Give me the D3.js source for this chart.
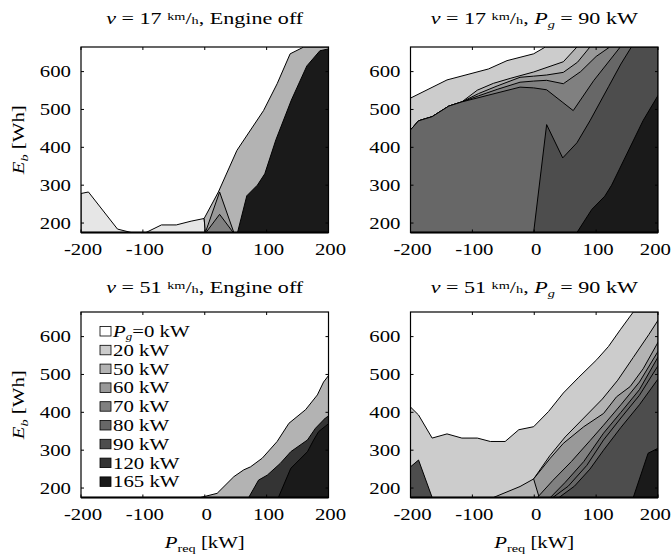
<!DOCTYPE html>
<html>
<head>
<meta charset="utf-8">
<script src="https://cdn.jsdelivr.net/npm/d3@7"></script>
<style>
  body { margin: 0; background: #fff; }
  svg text { font-family: "Liberation Serif", "Times New Roman", serif; font-size: 16px; fill: #000; }
</style>
</head>
<body>
<div id="chart"></div>
<script>
// axis ranges and ticks
const xDomain = [-200, 200];
const yDomain = [175, 665];
const xTicks = [-200, -100, 0, 100, 200];
const yTicks = [200, 300, 400, 500, 600];

// contour levels (P_g, kW); 10 is an unlabelled intermediate level
const levels = [0, 10, 20, 50, 60, 70, 80, 90, 120, 165];
const legendLevels = [0, 20, 50, 60, 70, 80, 90, 120, 165];

// each region: [level, [[P_req, E_b], ...]] -- superlevel sets, drawn low to high
const panel1Regions = [
  [10, [[-200, 175], [-200, 278], [-188, 282], [-141, 184], [-119, 175]]],
  [10, [[-95, 175], [-70, 195], [-46, 195], [-22, 205], [-1, 212], [1, 175]]],
  [50, [[1, 175], [-1, 212], [22, 282], [52, 392], [95, 497], [117, 568], [138, 647], [160, 665], [200, 665], [200, 175]]],
  [60, [[1, 175], [24, 282], [47, 175]]],
  [70, [[2, 175], [24, 223], [46, 175]]],
  [165, [[53, 175], [68, 272], [85, 300], [97, 330], [115, 420], [140, 525], [165, 615], [186, 655], [200, 660], [200, 175]]]
];

const p2Left = [[-200, 175], [-200, 446], [-187, 470], [-165, 481], [-138, 509], [-117, 520]];
const panel2Regions = [
  [20, [[-200, 175], [-200, 530], [-141, 578], [-74, 607], [-44, 629], [-1, 647], [18, 665], [200, 665], [200, 175]]],
  [50, [...p2Left, [-92, 551], [-66, 569], [-39, 582], [-1, 599], [47, 626], [69, 665], [200, 665], [200, 175]]],
  [60, [...p2Left, [-90, 542], [-60, 562], [-23, 585], [-1, 588], [20, 591], [47, 598], [70, 625], [90, 665], [200, 665], [200, 175]]],
  [70, [...p2Left, [-90, 536], [-60, 553], [-23, 572], [-1, 575], [20, 577], [47, 568], [75, 600], [100, 640], [122, 665], [200, 665], [200, 175]]],
  [80, [...p2Left, [-23, 559], [-1, 557], [20, 552], [45, 520], [63, 497], [96, 576], [139, 665], [200, 665], [200, 175]]],
  [90, [[-1, 175], [20, 460], [46, 372], [69, 412], [90, 470], [120, 560], [140, 620], [157, 665], [200, 665], [200, 175]]],
  [165, [[69, 175], [93, 236], [114, 271], [125, 300], [176, 471], [200, 537], [200, 175]]]
];

const panel3Regions = [
  [50, [[-7, 175], [20, 186], [47, 230], [63, 248], [74, 256], [93, 279], [117, 323], [136, 371], [163, 407], [182, 446], [192, 480], [200, 497], [200, 175]]],
  [120, [[71, 175], [87, 221], [101, 234], [122, 265], [139, 296], [166, 327], [179, 358], [195, 385], [200, 390], [200, 175]]],
  [165, [[119, 175], [139, 252], [166, 296], [176, 327], [184, 349], [200, 370], [200, 175]]]
];

const panel4Regions = [
  [20, [[-200, 175], [-200, 414], [-187, 393], [-165, 332], [-141, 343], [-117, 332], [-92, 332], [-71, 323], [-47, 323], [-25, 354], [-1, 362], [23, 402], [47, 451], [71, 491], [101, 539], [120, 574], [139, 618], [160, 665], [200, 665], [200, 175]]],
  [50, [[-66, 175], [-23, 204], [-1, 224], [25, 285], [50, 335], [80, 385], [110, 435], [135, 485], [160, 545], [185, 605], [200, 643], [200, 175]]],
  [60, [[8, 175], [-1, 224], [26, 279], [47, 318], [80, 362], [112, 397], [133, 441], [155, 468], [176, 515], [200, 585], [200, 175]]],
  [70, [[5, 175], [30, 220], [60, 270], [90, 325], [112, 366], [140, 420], [170, 480], [200, 561], [200, 175]]],
  [80, [[26, 175], [50, 215], [80, 270], [112, 345], [140, 400], [170, 460], [200, 546], [200, 175]]],
  [80, [[30, 175], [55, 205], [85, 260], [112, 327], [140, 385], [170, 445], [200, 523], [200, 175]]],
  [90, [[40, 175], [65, 205], [90, 250], [112, 300], [140, 360], [170, 420], [200, 488], [200, 175]]],
  [90, [[-200, 175], [-200, 256], [-187, 274], [-165, 175]]],
  [165, [[160, 175], [184, 292], [200, 305], [200, 175]]]
];

// layout
const W = 672, H = 554;
const pw = 247.5, ph = 185.5;
const SX = 1.3; // horizontal stretch of the lettering
const panels = [
  { x: 81, y: 47, regions: panel1Regions, v: "17", mode: "off", yLabel: true, xLabel: false },
  { x: 410.5, y: 47, regions: panel2Regions, v: "17", mode: "on", yLabel: false, xLabel: false },
  { x: 81, y: 312, regions: panel3Regions, v: "51", mode: "off", yLabel: true, xLabel: true, legend: true },
  { x: 410.5, y: 312, regions: panel4Regions, v: "51", mode: "on", yLabel: false, xLabel: true }
];

const grayScale = d3.scaleOrdinal()
  .domain(levels)
  .range(levels.map((d, i) => { const c = Math.round(255 - i * 25.4); return d3.rgb(c, c, c).formatHex(); }));

const svg = d3.select("#chart").append("svg")
  .attr("width", W).attr("height", H);

// text with tspans, horizontally stretched
function rich(g, x, y, parts, anchor, rot, size) {
  const t = g.append("text")
    .attr("transform", `translate(${x},${y})${rot ? " rotate(-90)" : ""} scale(${SX},1)`)
    .attr("text-anchor", anchor || "middle");
  if (size) t.style("font-size", size + "px");
  parts.forEach(p => {
    const s = t.append("tspan").text(p.t);
    if (p.i) s.attr("font-style", "italic");
    if (p.s) s.style("font-size", p.s + "px");
    if (p.dy) s.attr("dy", p.dy);
  });
  return t;
}

const x = d3.scaleLinear().domain(xDomain).range([0, pw]);
const y = d3.scaleLinear().domain(yDomain).range([ph, 0]);
const line = d3.line().x(d => x(d[0])).y(d => y(d[1]));

panels.forEach((p, pi) => {
  const g = svg.append("g").attr("transform", `translate(${p.x},${p.y})`);

  svg.append("clipPath").attr("id", "clip" + pi)
    .append("rect").attr("width", pw).attr("height", ph);

  const plot = g.append("g").attr("clip-path", `url(#clip${pi})`);
  plot.append("rect").attr("width", pw).attr("height", ph).attr("fill", grayScale(0));

  p.regions.forEach(([lev, pts]) => {
    plot.append("path")
      .attr("d", line(pts) + "Z")
      .attr("fill", grayScale(lev))
      .attr("stroke", "#000")
      .attr("stroke-width", 1)
      .attr("stroke-linejoin", "round");
  });

  // inward ticks on all sides
  const tl = 3;
  xTicks.forEach((t, ti) => {
    g.append("line").attr("x1", x(t)).attr("x2", x(t)).attr("y1", ph).attr("y2", ph - tl).attr("stroke", "#000");
    g.append("line").attr("x1", x(t)).attr("x2", x(t)).attr("y1", 0).attr("y2", tl).attr("stroke", "#000");
    const last = pi % 2 === 1 && ti === xTicks.length - 1;
    rich(g, last ? pw + 13 : x(t) + 2, ph + 22, [{ t: String(t) }], last ? "end" : "middle");
  });
  yTicks.forEach(t => {
    g.append("line").attr("x1", 0).attr("x2", tl).attr("y1", y(t)).attr("y2", y(t)).attr("stroke", "#000");
    g.append("line").attr("x1", pw).attr("x2", pw - tl).attr("y1", y(t)).attr("y2", y(t)).attr("stroke", "#000");
    rich(g, -10, y(t) + 5.5, [{ t: String(t) }], "end");
  });

  g.append("rect").attr("width", pw).attr("height", ph)
    .attr("fill", "none").attr("stroke", "#000").attr("stroke-width", 1.2);
  g.append("line").attr("x1", 0).attr("x2", pw).attr("y1", ph).attr("y2", ph)
    .attr("stroke", "#000").attr("stroke-width", 2);

  // title
  const tp = [{ t: "v", i: 1 }, { t: " = " + p.v + " " }, { t: "km", s: 11, dy: -4 }, { t: "/", dy: 4 }, { t: "h", s: 11 }];
  if (p.mode === "off") tp.push({ t: ", Engine off" });
  else tp.push({ t: ", " }, { t: "P", i: 1 }, { t: "g", i: 1, s: 11, dy: 4 }, { t: " = 90 kW", dy: -4 });
  rich(g, pw / 2, pi < 2 ? -23 : -19, tp, "middle", false, 17);

  if (p.yLabel) {
    rich(g, -57, ph / 2, [{ t: "E", i: 1 }, { t: "b", i: 1, s: 11, dy: 4 }, { t: " [Wh]", dy: -4 }], "middle", true);
  }
  if (p.xLabel) {
    rich(g, pw / 2, ph + 50, [{ t: "P", i: 1 }, { t: "req", s: 11, dy: 4 }, { t: " [kW]", dy: -4 }], "middle");
  }

  if (p.legend) {
    const lg = g.append("g").attr("transform", "translate(19,19.5)");
    legendLevels.forEach((lev, i) => {
      const row = lg.append("g").attr("transform", `translate(0,${i * 18.8})`);
      row.append("rect").attr("x", 0).attr("y", -5).attr("width", 11).attr("height", 9.5)
        .attr("fill", grayScale(lev)).attr("stroke", "#000").attr("stroke-width", 0.8);
      const parts = i === 0
        ? [{ t: "P", i: 1 }, { t: "g", i: 1, s: 10, dy: 3 }, { t: "=0 kW", dy: -3 }]
        : [{ t: lev + " kW" }];
      rich(row, 13, 5.5, parts, "start");
    });
  }
});
</script>
</body>
</html>
